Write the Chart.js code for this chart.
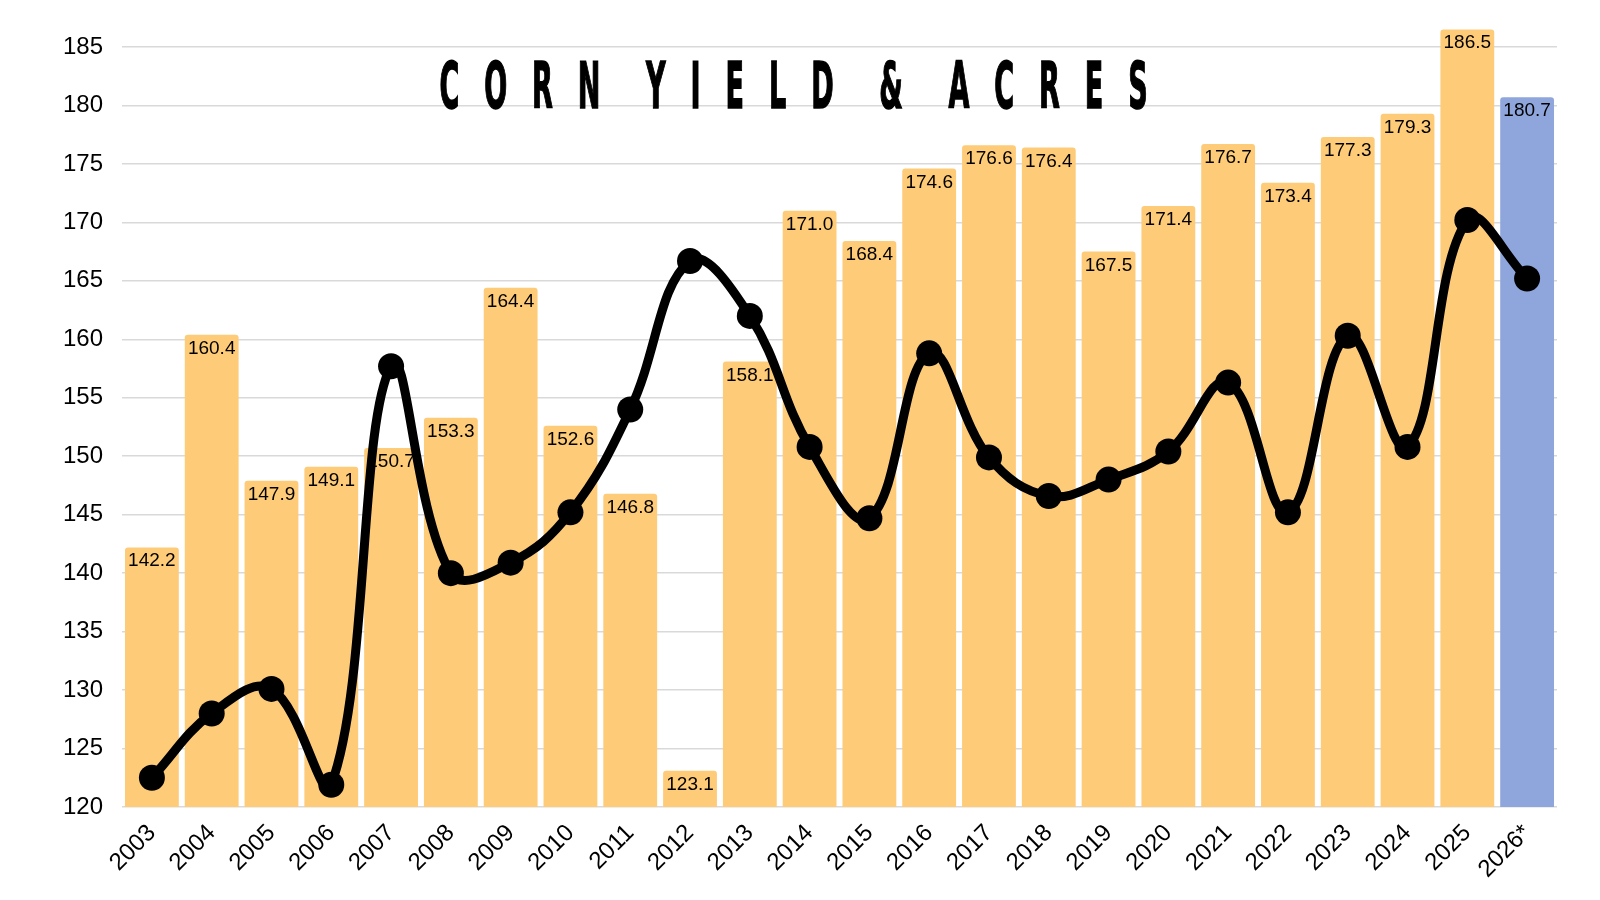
<!DOCTYPE html>
<html>
<head>
<meta charset="utf-8">
<script src="https://cdn.jsdelivr.net/npm/chart.js@4.4.1/dist/chart.umd.min.js"></script>
<style>
  html, body { margin: 0; padding: 0; background: #fff; }
  #wrap { position: relative; width: 1600px; height: 900px; }
  #title {
    position: absolute;
    top: 46px;
    left: 0;
    width: 1600px;
    text-align: center;
    white-space: nowrap;
    font-family: "Liberation Sans Narrow", "DejaVu Sans Condensed", sans-serif;
    font-weight: bold;
    font-size: 64px;
    line-height: 80px;
    letter-spacing: 53px;
    word-spacing: -29px;
    color: #000;
    -webkit-text-stroke: 1.5px #000;
    transform: translateX(6px) scaleX(0.47);
    transform-origin: 800px 0;
    z-index: 2;
    pointer-events: none;
  }
</style>
</head>
<body>
<div id="wrap">
  <canvas id="cornChart" width="1600" height="900"></canvas>
  <div id="title">CORN YIELD &amp; ACRES</div>
</div>
<script>
// corn yield (bars, bu/acre) and acres (line, drawn on the same scale)
const years = ['2003', '2004', '2005', '2006', '2007', '2008', '2009', '2010', '2011', '2012', '2013', '2014',
  '2015', '2016', '2017', '2018', '2019', '2020', '2021', '2022', '2023', '2024', '2025', '2026*'];
const yieldValues = [142.2, 160.4, 147.9, 149.1, 150.7, 153.3, 164.4, 152.6, 146.8, 123.1, 158.1, 171.0,
  168.4, 174.6, 176.6, 176.4, 167.5, 171.4, 176.7, 173.4, 177.3, 179.3, 186.5, 180.7];
const acresLine = [122.5, 128.0, 130.1, 121.9, 157.7, 140.0, 140.9, 145.2, 154.0, 166.7, 162.0, 150.8,
  144.7, 158.8, 149.9, 146.6, 148.0, 150.4, 156.3, 145.2, 160.3, 150.8, 170.2, 165.2];
const yTicks = [120, 125, 130, 135, 140, 145, 150, 155, 160, 165, 170, 175, 180, 185];

const barColors = years.map(y => y.endsWith('*') ? '#8FA6DD' : '#FECB78');

// draw the yield value inside the top of each bar
const barLabels = {
  id: 'barLabels',
  afterDatasetDraw(chart, args) {
    if (args.index !== 0) return;
    const ctx = chart.ctx;
    ctx.save();
    ctx.font = '19px "Liberation Sans", Arial, sans-serif';
    ctx.fillStyle = '#000';
    ctx.textAlign = 'center';
    ctx.textBaseline = 'alphabetic';
    args.meta.data.forEach((bar, i) => {
      ctx.fillText(yieldValues[i].toFixed(1), bar.x, bar.y + 19);
    });
    ctx.restore();
  }
};

new Chart(document.getElementById('cornChart'), {
  data: {
    labels: years,
    datasets: [
      {
        type: 'bar',
        label: 'Yield',
        data: yieldValues,
        backgroundColor: barColors,
        borderRadius: 3,
        barPercentage: 0.9,
        categoryPercentage: 1.0,
        clip: { left: 0, right: 0, bottom: 0, top: false },
        order: 1
      },
      {
        type: 'line',
        label: 'Acres',
        data: acresLine,
        borderColor: '#000',
        borderWidth: 9,
        pointRadius: 13,
        pointBackgroundColor: '#000',
        pointBorderColor: '#000',
        pointBorderWidth: 0,
        tension: 0.4,
        clip: false,
        order: 0
      }
    ]
  },
  options: {
    responsive: false,
    animation: false,
    devicePixelRatio: 1,
    layout: { padding: { top: 47, right: 43, left: 0, bottom: 0 } },
    plugins: {
      legend: { display: false },
      tooltip: { enabled: false }
    },
    scales: {
      x: {
        grid: { display: false },
        border: { display: false },
        ticks: {
          color: '#000',
          font: { family: '"Liberation Sans", Arial, sans-serif', size: 24 },
          minRotation: 45,
          maxRotation: 45,
          padding: 4
        },
        afterFit(scale) { scale.height = 93; }
      },
      y: {
        min: 120,
        max: 185,
        afterBuildTicks(scale) { scale.ticks = yTicks.map(v => ({ value: v })); },
        grid: { color: '#d9d9d9', lineWidth: 1.5, drawTicks: false },
        border: { display: false },
        ticks: {
          color: '#000',
          font: { family: '"Liberation Sans", Arial, sans-serif', size: 24 },
          padding: 19
        },
        afterFit(scale) { scale.width = 122; }
      }
    }
  },
  plugins: [barLabels]
});
</script>
</body>
</html>
